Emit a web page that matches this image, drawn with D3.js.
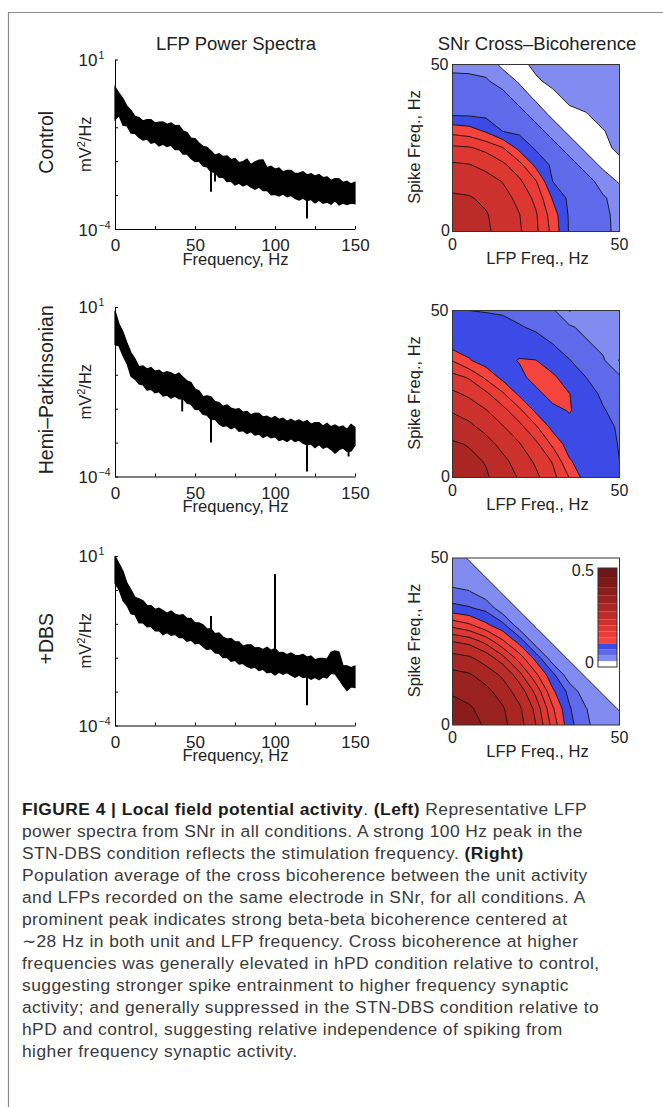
<!DOCTYPE html>
<html>
<head>
<meta charset="utf-8">
<script src="https://cdn.jsdelivr.net/npm/d3@7"></script>
<style>
  body { margin: 0; background: #fff; }
  svg { display: block; font-family: "Liberation Sans", Arial, sans-serif; }
</style>
</head>
<body>
<svg id="fig" width="663" height="1107"></svg>
<script>
// ---- spectra: upper / lower edge of the noisy band, log10(mV^2/Hz), every 2.5 Hz
const specFreqs = d3.range(0, 150.01, 2.5)

const ctrlHi = [0.19, 0.01, -0.15, -0.38, -0.50, -0.68, -0.71, -0.81, -0.77, -0.77, -0.87, -0.85, -0.84, -0.91, -0.87, -0.95,
  -0.94, -1.10, -1.15, -1.32, -1.33, -1.46, -1.56, -1.59, -1.70, -1.82, -1.78, -1.86, -1.84, -1.95, -1.92, -2.04, -2.01,
  -1.94, -2.10, -2.02, -1.97, -1.96, -2.19, -2.15, -2.23, -2.20, -2.31, -2.27, -2.27, -2.36, -2.35, -2.31, -2.40, -2.37,
  -2.44, -2.39, -2.48, -2.46, -2.56, -2.51, -2.52, -2.62, -2.59, -2.67, -2.62]
const ctrlLo = [-0.77, -0.66, -0.94, -0.96, -1.17, -1.18, -1.30, -1.38, -1.35, -1.47, -1.44, -1.55, -1.50, -1.57, -1.53, -1.66,
  -1.65, -1.79, -1.79, -1.92, -2.01, -2.00, -2.14, -2.17, -2.31, -2.33, -2.48, -2.47, -2.60, -2.59, -2.70, -2.65, -2.73,
  -2.68, -2.77, -2.83, -2.77, -2.87, -2.86, -2.99, -2.98, -3.03, -2.97, -3.05, -3.01, -3.10, -3.15, -3.09, -3.17, -3.13,
  -3.23, -3.15, -3.24, -3.21, -3.27, -3.17, -3.29, -3.24, -3.28, -3.24, -3.26]
const ctrlSpikes = [[60, -1.9, -2.90], [62.5, -2.3, -2.60], [120, -2.8, -3.69]]

const hpdHi = [0.89, 0.50, 0.26, -0.06, -0.35, -0.53, -0.76, -0.74, -0.83, -0.78, -0.89, -0.86, -0.95, -0.91, -0.94, -1.01,
  -0.95, -1.07, -1.18, -1.23, -1.42, -1.47, -1.64, -1.62, -1.65, -1.79, -1.82, -1.93, -1.89, -1.98, -2.02, -2.00, -2.10,
  -2.08, -2.18, -2.13, -2.14, -2.24, -2.22, -2.29, -2.23, -2.31, -2.28, -2.37, -2.31, -2.38, -2.33, -2.40, -2.35, -2.45,
  -2.41, -2.41, -2.51, -2.43, -2.53, -2.48, -2.55, -2.51, -2.61, -2.46, -2.55]
const hpdLo = [-0.11, -0.15, -0.44, -0.67, -1.05, -1.13, -1.27, -1.30, -1.45, -1.43, -1.53, -1.50, -1.63, -1.60, -1.69, -1.63,
  -1.71, -1.70, -1.84, -1.87, -2.02, -2.03, -2.17, -2.19, -2.33, -2.31, -2.45, -2.52, -2.50, -2.59, -2.54, -2.67, -2.65,
  -2.73, -2.68, -2.78, -2.75, -2.85, -2.79, -2.86, -2.83, -2.94, -2.90, -2.97, -2.89, -2.97, -2.93, -3.02, -3.07, -3.04,
  -3.15, -3.06, -3.17, -3.12, -3.20, -3.31, -3.21, -3.16, -3.26, -3.25, -3.09]
const hpdSpikes = [[42, -1.6, -2.08], [60, -2.2, -3.00], [120, -2.9, -3.85], [146, -3.1, -3.41]]

const dbsHi = [1.00, 0.78, 0.55, 0.20, 0.00, -0.22, -0.26, -0.32, -0.46, -0.46, -0.57, -0.54, -0.61, -0.69, -0.62, -0.71,
  -0.75, -0.73, -0.84, -0.84, -0.97, -0.97, -1.03, -1.15, -1.15, -1.29, -1.27, -1.39, -1.45, -1.43, -1.53, -1.53, -1.66,
  -1.62, -1.62, -1.71, -1.70, -1.76, -1.69, -1.78, -1.73, -1.85, -1.84, -1.91, -1.86, -1.93, -1.94, -1.90, -1.98, -1.95,
  -2.06, -2.02, -2.02, -2.04, -1.84, -1.80, -1.83, -2.23, -2.24, -2.29, -2.25]
const dbsLo = [0.20, 0.01, -0.32, -0.46, -0.70, -0.73, -0.97, -0.97, -1.09, -1.08, -1.21, -1.20, -1.32, -1.26, -1.34, -1.31,
  -1.41, -1.41, -1.52, -1.48, -1.59, -1.57, -1.68, -1.76, -1.73, -1.86, -1.87, -2.00, -1.99, -2.11, -2.08, -2.19, -2.17,
  -2.26, -2.31, -2.28, -2.38, -2.34, -2.45, -2.42, -2.51, -2.43, -2.49, -2.44, -2.52, -2.58, -2.52, -2.59, -2.56, -2.64,
  -2.58, -2.65, -2.57, -2.60, -2.46, -2.48, -2.64, -2.82, -2.97, -2.86, -2.88]
const dbsSpikes = [[60, -1.2, -0.77], [100, -1.9, 0.47], [120, -2.5, -3.40]]

// ---- cross-bicoherence grids, rows = spike freq 0..50 Hz, cols = LFP freq 0..50 Hz
const bicFreqs = [0, 5, 10, 15, 20, 25, 30, 35, 40, 45, 50]

const ctrlBic = [
  [0.260, 0.252, 0.244, 0.231, 0.214, 0.186, 0.141, 0.087, 0.075, 0.065, 0.055],
  [0.252, 0.249, 0.242, 0.229, 0.211, 0.183, 0.135, 0.086, 0.074, 0.064, 0.055],
  [0.244, 0.242, 0.235, 0.221, 0.202, 0.172, 0.117, 0.083, 0.073, 0.063, 0.050],
  [0.231, 0.229, 0.221, 0.209, 0.186, 0.152, 0.090, 0.079, 0.070, 0.050, 0.026],
  [0.214, 0.211, 0.202, 0.186, 0.160, 0.111, 0.084, 0.070, 0.050, 0.022, 0.024],
  [0.186, 0.183, 0.172, 0.152, 0.111, 0.086, 0.070, 0.050, 0.022, 0.024, 0.035],
  [0.141, 0.135, 0.117, 0.090, 0.084, 0.070, 0.050, 0.022, 0.024, 0.028, 0.042],
  [0.087, 0.086, 0.083, 0.079, 0.070, 0.050, 0.022, 0.024, 0.028, 0.042, 0.046],
  [0.075, 0.074, 0.073, 0.070, 0.050, 0.024, 0.024, 0.035, 0.042, 0.046, 0.046],
  [0.065, 0.064, 0.063, 0.050, 0.026, 0.027, 0.035, 0.042, 0.046, 0.046, 0.046],
  [0.055, 0.055, 0.050, 0.022, 0.024, 0.035, 0.042, 0.046, 0.046, 0.046, 0.046]
]

const hpdBic = [
  [0.300, 0.292, 0.284, 0.265, 0.236, 0.216, 0.190, 0.149, 0.105, 0.099, 0.090],
  [0.292, 0.287, 0.278, 0.248, 0.226, 0.205, 0.177, 0.123, 0.104, 0.099, 0.090],
  [0.284, 0.278, 0.253, 0.230, 0.212, 0.187, 0.144, 0.105, 0.105, 0.097, 0.089],
  [0.265, 0.248, 0.230, 0.213, 0.191, 0.155, 0.111, 0.105, 0.104, 0.095, 0.088],
  [0.236, 0.226, 0.212, 0.191, 0.158, 0.114, 0.105, 0.123, 0.100, 0.091, 0.086],
  [0.216, 0.205, 0.187, 0.155, 0.114, 0.105, 0.140, 0.121, 0.095, 0.088, 0.080],
  [0.190, 0.177, 0.144, 0.111, 0.105, 0.140, 0.128, 0.097, 0.090, 0.080, 0.065],
  [0.149, 0.123, 0.105, 0.105, 0.123, 0.121, 0.097, 0.091, 0.080, 0.065, 0.028],
  [0.105, 0.104, 0.105, 0.104, 0.100, 0.095, 0.090, 0.080, 0.065, 0.050, 0.045],
  [0.099, 0.099, 0.097, 0.095, 0.091, 0.088, 0.080, 0.065, 0.050, 0.045, 0.045],
  [0.090, 0.090, 0.089, 0.088, 0.086, 0.080, 0.065, 0.028, 0.045, 0.045, 0.045]
]

const dbsBic = [
  [0.380, 0.369, 0.357, 0.331, 0.296, 0.240, 0.169, 0.100, 0.065, 0.045, 0.040],
  [0.369, 0.364, 0.348, 0.324, 0.287, 0.229, 0.154, 0.093, 0.061, 0.040, 0.028],
  [0.357, 0.348, 0.331, 0.303, 0.261, 0.201, 0.126, 0.081, 0.040, 0.028, 0.018],
  [0.331, 0.324, 0.303, 0.273, 0.221, 0.156, 0.099, 0.040, 0.028, 0.018, 0.012],
  [0.296, 0.287, 0.261, 0.221, 0.167, 0.110, 0.040, 0.028, 0.018, 0.012, 0.012],
  [0.240, 0.229, 0.201, 0.156, 0.110, 0.040, 0.028, 0.018, 0.012, 0.012, 0.012],
  [0.169, 0.154, 0.126, 0.099, 0.040, 0.028, 0.018, 0.012, 0.012, 0.012, 0.012],
  [0.100, 0.093, 0.081, 0.040, 0.028, 0.018, 0.012, 0.012, 0.012, 0.012, 0.012],
  [0.065, 0.061, 0.040, 0.028, 0.018, 0.012, 0.012, 0.012, 0.012, 0.012, 0.012],
  [0.045, 0.040, 0.028, 0.018, 0.012, 0.012, 0.012, 0.012, 0.012, 0.012, 0.012],
  [0.040, 0.028, 0.018, 0.012, 0.012, 0.012, 0.012, 0.012, 0.012, 0.012, 0.012]
]

const levels = [0.03, 0.06, 0.09, 0.12, 0.15, 0.18, 0.21, 0.24, 0.28, 0.32, 0.36, 0.40, 0.45]
const levelColors = ['#ffffff', '#828bef', '#5f6aea', '#3c4ae6',
  '#f5433d', '#ea3c37', '#dd3732', '#cc312d', '#bb2b28', '#aa2623', '#99211f', '#8a1d1c', '#7c1919', '#6e1515']

const rowLabels = ['Control', 'Hemi\u2013Parkinsonian', '+DBS']
const specTicks = [0, 25, 50, 75, 100, 125, 150]
const specTickLabels = [0, 50, 100, 150]

const captionLines = [
  [['b', 'FIGURE 4 | Local field potential activity'], ['n', '. '], ['b', '(Left)'], ['n', ' Representative LFP']],
  [['n', 'power spectra from SNr in all conditions. A strong 100 Hz peak in the']],
  [['n', 'STN-DBS condition reflects the stimulation frequency. '], ['b', '(Right)']],
  [['n', 'Population average of the cross bicoherence between the unit activity']],
  [['n', 'and LFPs recorded on the same electrode in SNr, for all conditions. A']],
  [['n', 'prominent peak indicates strong beta-beta bicoherence centered at']],
  [['n', '\u223c28 Hz in both unit and LFP frequency. Cross bicoherence at higher']],
  [['n', 'frequencies was generally elevated in hPD condition relative to control,']],
  [['n', 'suggesting stronger spike entrainment to higher frequency synaptic']],
  [['n', 'activity; and generally suppressed in the STN-DBS condition relative to']],
  [['n', 'hPD and control, suggesting relative independence of spiking from']],
  [['n', 'higher frequency synaptic activity.']]
]

// ---- layout
const svg = d3.select('#fig')
const specH = 169.5
const bicS = 167
const panels = [
  { hi: ctrlHi, lo: ctrlLo, spikes: ctrlSpikes, bic: ctrlBic, specTop: 59.5, bicTop: 64.5 },
  { hi: hpdHi, lo: hpdLo, spikes: hpdSpikes, bic: hpdBic, specTop: 307, bicTop: 310.5 },
  { hi: dbsHi, lo: dbsLo, spikes: dbsSpikes, bic: dbsBic, specTop: 556, bicTop: 558 }
]

// frame
svg.append('path')
  .attr('d', 'M663,12.5H8.5V1107')
  .attr('fill', 'none')
  .attr('stroke', '#8a8a8a')
  .attr('stroke-width', 1.2)

svg.append('text').attr('x', 236).attr('y', 50).attr('text-anchor', 'middle')
  .attr('font-size', 18.5).attr('fill', '#222').text('LFP Power Spectra')
svg.append('text').attr('x', 537).attr('y', 50).attr('text-anchor', 'middle')
  .attr('font-size', 18.5).attr('fill', '#222').text('SNr Cross\u2013Bicoherence')

const specX = d3.scaleLinear().domain([0, 150]).range([115, 355])
const bicX = d3.scaleLinear().domain([0, 50]).range([452.5, 452.5 + bicS])

panels.forEach((p, k) => {
  const g = svg.append('g')
  const y = d3.scaleLog().domain([1e-4, 10]).range([p.specTop + specH, p.specTop])
  const mid = p.specTop + specH / 2

  // row label + y unit
  g.append('text')
    .attr('transform', `translate(53,${mid - 2}) rotate(-90)`)
    .attr('text-anchor', 'middle').attr('font-size', 19.5).attr('fill', '#222')
    .text(rowLabels[k])
  const unit = g.append('text')
    .attr('transform', `translate(91,${mid}) rotate(-90)`)
    .attr('text-anchor', 'middle').attr('font-size', 16.5).attr('fill', '#222')
  unit.append('tspan').text('mV')
  unit.append('tspan').attr('dy', -6).attr('font-size', 11).text('2')
  unit.append('tspan').attr('dy', 6).text('/Hz')

  // band
  const area = d3.area()
    .x((d, i) => specX(specFreqs[i]))
    .y0((d, i) => y(Math.pow(10, p.lo[i])))
    .y1((d, i) => y(Math.pow(10, p.hi[i])))
  g.append('path')
    .datum(p.hi)
    .attr('d', area)
    .attr('fill', '#000')
    .attr('stroke', '#000')
    .attr('stroke-width', 1.2)
    .attr('stroke-linejoin', 'miter')

  g.selectAll('.spike')
    .data(p.spikes)
    .join('line')
    .attr('class', 'spike')
    .attr('x1', d => specX(d[0])).attr('x2', d => specX(d[0]))
    .attr('y1', d => y(Math.pow(10, d[1]))).attr('y2', d => y(Math.pow(10, d[2])))
    .attr('stroke', '#000').attr('stroke-width', 2)

  // axes
  const xAxis = d3.axisBottom(specX)
    .tickValues(specTicks)
    .tickSize(-3)
    .tickSizeOuter(0)
    .tickPadding(10)
    .tickFormat(d => specTickLabels.includes(d) ? d : '')
  const xg = g.append('g')
    .attr('transform', `translate(0,${p.specTop + specH})`)
    .call(xAxis)
  xg.selectAll('text').attr('font-size', 17).attr('fill', '#222')
    .attr('font-family', '"Liberation Sans", Arial, sans-serif')

  const yAxis = d3.axisLeft(y)
    .tickValues([1e-4, 1e-3, 1e-2, 1e-1, 1, 10])
    .tickSize(-3)
    .tickSizeOuter(0)
    .tickFormat('')
  g.append('g')
    .attr('transform', `translate(${specX(0)},0)`)
    .call(yAxis)

  const expLabel = (sup, yy) => {
    g.append('text').attr('x', 97.5).attr('y', yy).attr('text-anchor', 'end')
      .attr('font-size', 17).attr('fill', '#222').text('10')
    g.append('text').attr('x', 98.5).attr('y', yy - 7).attr('font-size', 10.5).attr('fill', '#222').text(sup)
  }
  expLabel('1', y(10) + 6)
  expLabel('\u22124', y(1e-4) + 6.5)

  g.append('text')
    .attr('x', 235.5).attr('y', p.specTop + specH + 35.5)
    .attr('text-anchor', 'middle').attr('font-size', 16.5).attr('fill', '#222')
    .text('Frequency, Hz')

  // ---- bicoherence contour panel
  const by = d3.scaleLinear().domain([0, 50]).range([p.bicTop + bicS, p.bicTop])
  const step = bicFreqs[1] - bicFreqs[0]
  const n = bicFreqs.length
  const contours = d3.contours().size([n, n]).thresholds(levels)(p.bic.flat())
  const path = d3.geoPath(d3.geoTransform({
    point(px, py) { this.stream.point(bicX((px - 0.5) * step), by((py - 0.5) * step)) }
  }))

  const clipId = `clip${k}`
  svg.append('clipPath').attr('id', clipId)
    .append('rect')
    .attr('x', bicX(0)).attr('y', p.bicTop).attr('width', bicS).attr('height', bicS)

  const cg = g.append('g').attr('clip-path', `url(#${clipId})`)
  cg.append('rect')
    .attr('x', bicX(0)).attr('y', p.bicTop).attr('width', bicS).attr('height', bicS)
    .attr('fill', levelColors[0])
  cg.selectAll('path')
    .data(contours)
    .join('path')
    .attr('d', path)
    .attr('fill', (d, i) => levelColors[i + 1])
    .attr('stroke', '#111')
    .attr('stroke-width', 0.9)
    .attr('stroke-linejoin', 'round')

  g.append('rect')
    .attr('x', bicX(0)).attr('y', p.bicTop).attr('width', bicS).attr('height', bicS)
    .attr('fill', 'none').attr('stroke', '#333').attr('stroke-width', 1)

  const tick = (x, yy, anchor, txt) => g.append('text').attr('x', x).attr('y', yy)
    .attr('text-anchor', anchor).attr('font-size', 16).attr('fill', '#222').text(txt)
  tick(bicX(0) - 4, p.bicTop + 5, 'end', '50')
  tick(bicX(0) - 2.5, p.bicTop + bicS + 4.5, 'end', '0')
  tick(bicX(0), p.bicTop + bicS + 18, 'middle', '0')
  tick(bicX(50), p.bicTop + bicS + 18, 'middle', '50')

  g.append('text')
    .attr('transform', `translate(420,${p.bicTop + bicS / 2 - 1}) rotate(-90)`)
    .attr('text-anchor', 'middle').attr('font-size', 16.5).attr('fill', '#222')
    .text('Spike Freq., Hz')
  g.append('text')
    .attr('x', 537.5).attr('y', p.bicTop + bicS + 32)
    .attr('text-anchor', 'middle').attr('font-size', 16.5).attr('fill', '#222')
    .text('LFP Freq., Hz')

  // colour bar in the last panel
  if (k === 2) {
    const cb = d3.scaleLinear().domain([0, 0.5]).range([667, 568])
    const edges = [0, ...levels, 0.5]
    g.selectAll('.cb')
      .data(levelColors)
      .join('rect')
      .attr('class', 'cb')
      .attr('x', 598).attr('width', 19)
      .attr('y', (d, i) => cb(edges[i + 1]))
      .attr('height', (d, i) => cb(edges[i]) - cb(edges[i + 1]))
      .attr('fill', d => d)
    g.append('rect').attr('x', 598).attr('y', 568).attr('width', 19).attr('height', 99)
      .attr('fill', 'none').attr('stroke', '#333').attr('stroke-width', 1)
    tick(594, cb(0.5) + 8, 'end', '0.5')
    tick(594, cb(0) + 1, 'end', '0')
  }
})

// ---- caption
const cap = svg.append('g')
captionLines.forEach((line, i) => {
  const t = cap.append('text')
    .attr('x', 22).attr('y', 815 + i * 22)
    .attr('font-size', 17.4)
    .attr('letter-spacing', 0.45)
  line.forEach(([w, s]) => {
    t.append('tspan')
      .attr('font-weight', w === 'b' ? 'bold' : 'normal')
      .attr('fill', w === 'b' ? '#1c1c1c' : '#3a3a3a')
      .text(s)
  })
})
</script>
</body>
</html>
